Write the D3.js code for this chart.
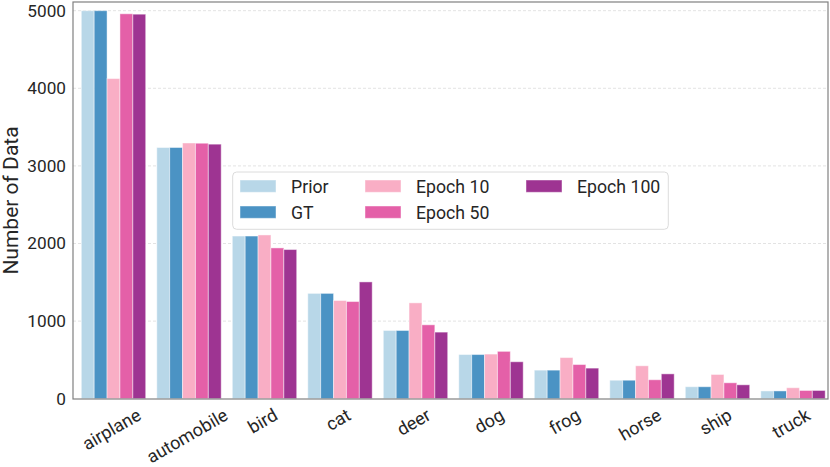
<!DOCTYPE html>
<html>
<head>
<meta charset="utf-8">
<script src="https://cdn.jsdelivr.net/npm/d3@7"></script>
<style>
  html, body { margin: 0; padding: 0; background: #fff; }
  svg { display: block; font-family: Roboto, "Noto Sans", sans-serif; }
</style>
</head>
<body>
<svg id="chart" width="830" height="467"></svg>
<script>
const categories = ["airplane", "automobile", "bird", "cat", "deer", "dog", "frog", "horse", "ship", "truck"];
const seriesNames = ["Prior", "GT", "Epoch 10", "Epoch 50", "Epoch 100"];
const prior   = [5000, 3237, 2096, 1357, 879, 569, 368, 238, 154, 100];
const gt      = [5000, 3237, 2096, 1357, 879, 569, 368, 238, 154, 100];
const epoch10 = [4125, 3295, 2110, 1265, 1235, 575, 530, 424, 312, 141];
const epoch50 = [4960, 3292, 1943, 1252, 952, 610, 440, 244, 205, 106];
const epoch100= [4955, 3280, 1922, 1505, 858, 476, 394, 320, 179, 106];
const yTicks = [0, 1000, 2000, 3000, 4000, 5000];
const colors = ["#b8d7e8", "#4b93c4", "#f9aec5", "#e460a8", "#9e3492"];

const seriesValues = [prior, gt, epoch10, epoch50, epoch100];

const svg = d3.select("#chart");
const plot = { left: 73, right: 828, top: 2, bottom: 399 };

const x0 = d3.scaleBand().domain(categories).range([75.75, 830.75]).padding(0);
const groupW = x0.bandwidth() * 0.853;
const x1 = d3.scaleBand().domain(seriesNames).range([0, groupW]).padding(0);
const y = d3.scaleLinear().domain([0, 5112]).range([398.7, 2]);

// grid
svg.append("g").selectAll("line").data(yTicks.filter(d => d > 0)).join("line")
  .attr("x1", plot.left).attr("x2", plot.right)
  .attr("y1", d => y(d)).attr("y2", d => y(d))
  .attr("stroke", "#e3e3e3").attr("stroke-width", 1).attr("stroke-dasharray", "3,2");

// bars
const barG = svg.append("g");
seriesNames.forEach((s, si) => {
  barG.append("g").selectAll("rect").data(categories).join("rect")
    .attr("x", (c) => x0(c) + (x0.bandwidth() - groupW) / 2 + x1(s))
    .attr("width", x1.bandwidth())
    .attr("y", (c, i) => y(seriesValues[si][i]))
    .attr("height", (c, i) => y(0) - y(seriesValues[si][i]))
    .attr("fill", colors[si])
    .attr("stroke", "#ffffff").attr("stroke-opacity", 0.45).attr("stroke-width", 1);
});

// frame
svg.append("rect")
  .attr("x", plot.left).attr("y", plot.top)
  .attr("width", plot.right - plot.left).attr("height", plot.bottom - plot.top)
  .attr("fill", "none").attr("stroke", "#808080").attr("stroke-width", 1.2);

// y tick labels
svg.append("g").selectAll("text").data(yTicks).join("text")
  .attr("x", 66).attr("y", d => y(d))
  .attr("text-anchor", "end").attr("dominant-baseline", "central")
  .attr("font-size", 17.2).attr("fill", "#262626")
  .text(d => d);

// x tick labels (rotated 30deg, centered under tick, top aligned)
const xl = svg.append("g");
categories.forEach(c => {
  const cx = x0(c) + x0.bandwidth() / 2;
  const t = xl.append("text")
    .attr("text-anchor", "middle").attr("dominant-baseline", "central")
    .attr("font-size", 18).attr("fill", "#262626").text(c);
  const w = t.node().getComputedTextLength();
  const h = 14;
  const bh = w * Math.sin(Math.PI / 6) + h * Math.cos(Math.PI / 6);
  t.attr("transform", `translate(${cx - 2},${407 + bh / 2}) rotate(-30)`);
});

// y label
svg.append("text")
  .attr("transform", `translate(18,${(plot.top + plot.bottom) / 2}) rotate(-90)`)
  .attr("text-anchor", "middle")
  .attr("font-size", 21).attr("fill", "#262626")
  .text("Number of Data");

// legend
const lg = svg.append("g");
lg.append("rect").attr("x", 232.7).attr("y", 172).attr("width", 435.6).attr("height", 57.3)
  .attr("rx", 4).attr("fill", "#ffffff").attr("fill-opacity", 0.85)
  .attr("stroke", "#dcdcdc").attr("stroke-width", 1);
const legPos = [
  { px: 240, py: 180 }, { px: 240, py: 206 },
  { px: 365, py: 180 }, { px: 365, py: 206 },
  { px: 526, py: 180 }
];
seriesNames.forEach((s, i) => {
  const p = legPos[i];
  lg.append("rect").attr("x", p.px).attr("y", p.py).attr("width", 36).attr("height", 12.3)
    .attr("fill", colors[i]).attr("stroke", "#ffffff").attr("stroke-opacity", 0.45);
  lg.append("text").attr("x", p.px + 51).attr("y", p.py + 6.5)
    .attr("dominant-baseline", "central").attr("font-size", 17.7).attr("fill", "#262626")
    .text(s);
});
</script>
</body>
</html>
